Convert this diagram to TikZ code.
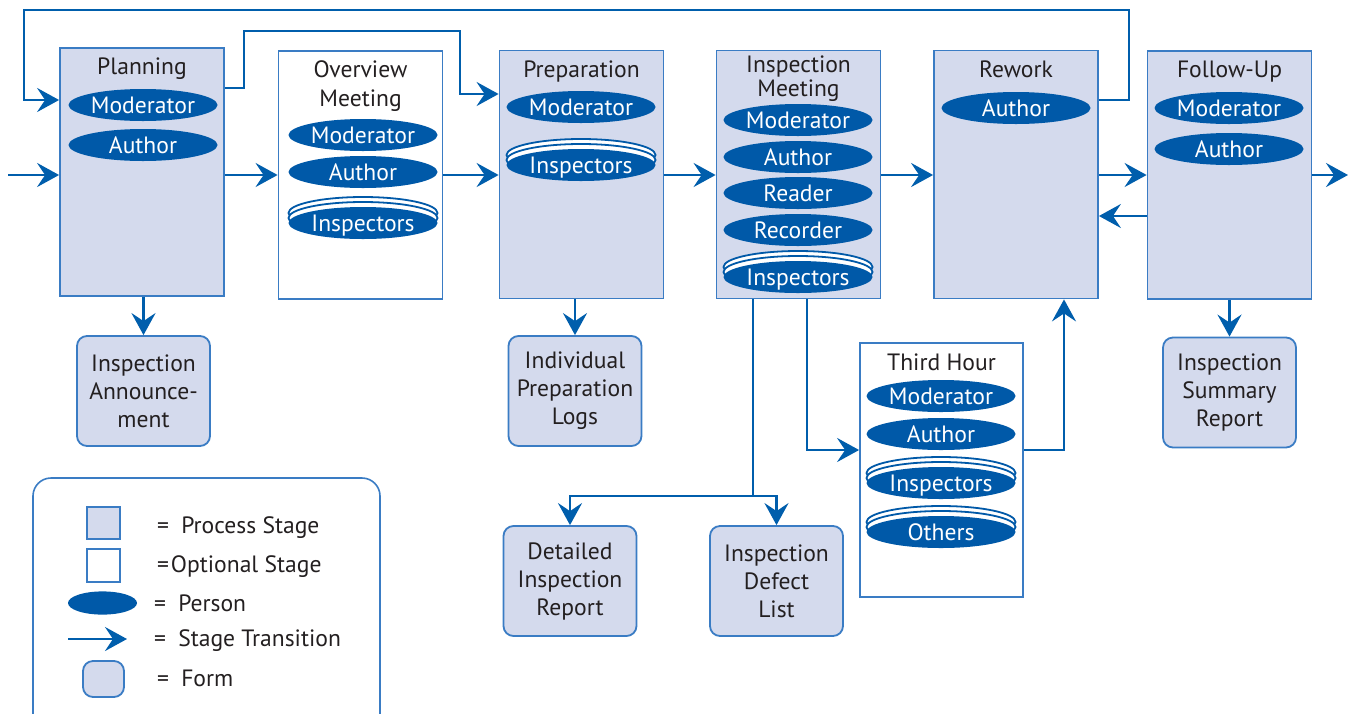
\documentclass[tikz,border=0pt]{standalone}
\usepackage{fontspec}
\setmainfont{PT Sans}
\usetikzlibrary{shapes.geometric,arrows.meta}
\definecolor{flowblue}{RGB}{0,94,172}
\definecolor{personblue}{RGB}{0,89,168}
\definecolor{stagefill}{RGB}{212,218,237}
\definecolor{stageline}{RGB}{58,124,196}
\definecolor{inktext}{RGB}{35,31,32}
\tikzset{
    stage/.style={draw=stageline, line width=0.9pt, fill=stagefill, minimum width=82pt, minimum height=124pt, inner sep=0pt},
    optstage/.style={stage, fill=white},
    form/.style={draw=stageline, line width=0.9pt, fill=stagefill, rounded corners=5pt, minimum width=66.5pt, minimum height=55pt, inner sep=0pt, align=center, text=inktext},
    person/.style={ellipse, fill=personblue, text=white, minimum width=74.5pt, minimum height=16pt, inner sep=0pt, text height=8.2pt, text depth=0pt},
    crowdback/.style={draw=personblue, line width=0.9pt, fill=white},
    title/.style={text=inktext, align=center, anchor=base},
    feed/.style={draw=flowblue, line width=1.4pt},
    flow/.style={feed, -{Stealth[length=11pt, width=12pt, inset=4pt]}}
}
\begin{document}
\begin{tikzpicture}[x=0.5pt, y=-0.5pt, every node/.style={font=\fontsize{11.8}{14}\selectfont}]
    \useasboundingbox (0,0) rectangle (1348,713);
    % stages
        \node[stage] (plan) at (142,172) {};
        \node[optstage] (over) at (360.5,175) {};
        \node[stage] (prep) at (581.5,174.5) {};
        \node[stage] (meet) at (798.5,174.5) {};
        \node[stage] (rework) at (1016,174.5) {};
        \node[stage] (follow) at (1229.5,175) {};
        \node[optstage, minimum width=81.5pt, minimum height=127pt] (third) at (941.5,470) {};
        \foreach \n/\x/\y/\t in {plan/142/74/Planning, prep/581.5/77/Preparation, rework/1016/77/Rework, follow/1229.5/77/Follow-Up, third/941.5/370/Third Hour}{
            \node[title] (\n-t) at (\x,\y) {\t};
        }
        \node[title, font=\fontsize{11.8}{14.5}\selectfont] (over-t) at (360.5,106) {Overview\\Meeting};
        \node[title, font=\fontsize{11.8}{12}\selectfont] (meet-t) at (798.5,96) {Inspection\\Meeting};
    % people
        \foreach \n/\x/\y/\t in {planmod/143/105/Moderator, planauth/143/145/Author, overmod/363/135/Moderator, overauth/363/172/Author, prepmod/581/107/Moderator, meetmod/798/120/Moderator, meetauth/798/157/Author, meetread/798/193/Reader, meetrec/798/230/Recorder, reworkauth/1016/108/Author, followmod/1229/108/Moderator, followauth/1229/149/Author, thirdmod/941/396/Moderator, thirdauth/941/434/Author}{
            \node[person] (\n) at (\x,\y) {\t};
        }
        \foreach \n/\x/\y/\t in {overinsp/363/223/Inspectors, prepinsp/581/165/Inspectors, meetinsp/798/277/Inspectors, thirdinsp/941/483/Inspectors, thirdoth/941/532/Others}{
            \foreach \d in {10,5}{\draw[crowdback] (\x,\y-\d) ellipse (74.5 and 16);}
            \node[person] (\n) at (\x,\y) {\t};
        }
    % forms
        \node[form] (ann) at (143.5,391) {Inspection\\Announce-\\ment};
        \node[form] (logs) at (575,391) {Individual\\Preparation\\Logs};
        \node[form] (report) at (570,581) {Detailed\\Inspection\\Report};
        \node[form] (defect) at (776.5,581) {Inspection\\Defect\\List};
        \node[form] (summary) at (1229.5,392.5) {Inspection\\Summary\\Report};
    % transitions
        \coordinate (entry) at (8,175);
        \coordinate (exit) at (1348,175);
        \draw[flow] (entry) -- (plan.west |- entry);
        \foreach \a/\b in {plan/over, over/prep, prep/meet, meet/rework, rework/follow}{
            \draw[flow] (\a.east |- entry) -- (\b.west |- entry);
        }
        \draw[flow] (follow.east |- entry) -- (exit);
        \coordinate (back) at (1120,216);
        \draw[flow] (follow.west |- back) -- (rework.east |- back);
        \coordinate (loop1) at (1129,10);
        \coordinate (loop2) at (24,100);
        \draw[flow] (rework.east |- loop2) -| (loop1) -| (loop2) -- (plan.west |- loop2);
        \coordinate (skip1) at (244,88);
        \coordinate (skip2) at (460,31);
        \coordinate (skip3) at (460,94);
        \draw[flow] (plan.east |- skip1) -- (skip1) |- (skip2) -- (skip3) -- (prep.west |- skip3);
        \foreach \a/\b in {plan/ann, prep/logs, follow/summary}{
            \draw[flow] (\a.south -| \b.north) -- (\b.north);
        }
        \coordinate (fork) at (753,496);
        \draw[feed] (meet.south -| fork) -- (fork);
        \draw[flow] (fork) -| (report.north);
        \draw[flow] (fork) -| (defect.north);
        \coordinate (thirdin) at (807,450);
        \coordinate (thirdout) at (1064,450);
        \draw[flow] (meet.south -| thirdin) |- (third.west |- thirdin);
        \draw[flow] (third.east |- thirdout) -| (rework.south -| thirdout);
    % legend
        \draw[draw=stageline, line width=0.8pt, rounded corners=9pt] (33,478) rectangle (380,760);
        \node[stage, minimum width=16.5pt, minimum height=16pt] (keystage) at (103.5,523) {};
        \node[optstage, minimum width=16.5pt, minimum height=16.5pt] (keyopt) at (103.5,565.5) {};
        \node[person, minimum width=34.5pt, minimum height=11pt] (keyperson) at (102.5,603) {};
        \coordinate (keyfrom) at (68,639);
        \coordinate (keyto) at (127,639);
        \draw[flow] (keyfrom) -- (keyto);
        \node[form, minimum width=20.5pt, minimum height=18pt] (keyform) at (103.5,679) {};
        \foreach \n/\x/\y/\t in {keystage-t/150/533/=\hspace{3pt} Process Stage, keyopt-t/150/572/=\hspace{1pt}Optional Stage, keyperson-t/147/611/=\hspace{3pt} Person, keyflow-t/147/646/=\hspace{3pt} Stage Transition, keyform-t/150/686/=\hspace{3pt} Form}{
            \node[anchor=base west, text=inktext] (\n) at (\x,\y) {\t};
        }
\end{tikzpicture}
\end{document}
